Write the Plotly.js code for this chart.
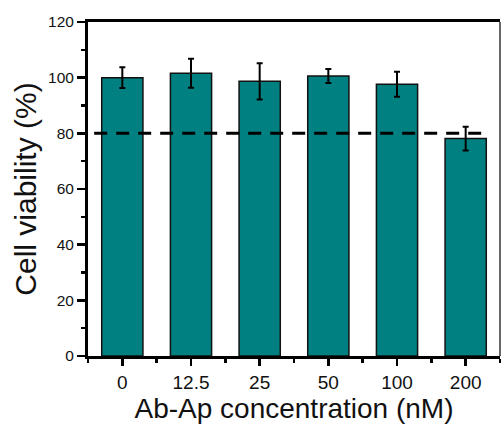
<!DOCTYPE html>
<html>
<head>
<meta charset="utf-8">
<script src="https://cdn.plot.ly/plotly-3.0.1.min.js"></script>
<style>html,body{margin:0;padding:0;background:#fff;}#chart{width:502px;height:429px;}</style>
</head>
<body>
<div id="chart"></div>
<script>
const categories = ["0", "12.5", "25", "50", "100", "200"];
const viability = [100.0, 101.6, 98.7, 100.6, 97.6, 78.1];
const errors = [3.7, 5.2, 6.5, 2.5, 4.5, 4.3];
const thresholdValue = 80;

const xIdx = categories.map((c, i) => i);

const trace = {
  type: 'bar',
  x: xIdx,
  y: viability,
  width: 0.6,
  marker: {color: '#008080', line: {color: '#111', width: 1.5}},
  error_y: {type: 'data', array: errors, visible: true, color: '#000', thickness: 2, width: 3},
  hoverinfo: 'y'
};

const layout = {
  width: 502, height: 429,
  margin: {l: 88, r: 2, t: 22, b: 73},
  paper_bgcolor: '#fff', plot_bgcolor: '#fff',
  showlegend: false,
  font: {family: '"Liberation Sans", Arial, sans-serif', color: '#000'},
  xaxis: {
    range: [-0.5, 5.5],
    tickmode: 'array', tickvals: xIdx, ticktext: categories,
    ticks: 'outside', ticklen: 7, tickwidth: 2.5, tickcolor: '#000',
    minor: {tick0: 0.5, dtick: 1, ticks: 'outside', ticklen: 4, tickwidth: 2.5, tickcolor: '#000'},
    showline: true, linewidth: 3, linecolor: '#000', mirror: true,
    showgrid: false, zeroline: false,
    tickfont: {size: 19, color: '#111'},
    title: {text: 'Ab-Ap concentration (nM)', font: {size: 28, color: '#111'}, standoff: 7}
  },
  yaxis: {
    range: [0, 120],
    tickmode: 'linear', tick0: 0, dtick: 20,
    ticks: 'outside', ticklen: 8, tickwidth: 2.5, tickcolor: '#000',
    minor: {dtick: 10, ticks: 'outside', ticklen: 4, tickwidth: 2.5, tickcolor: '#000'},
    showline: true, linewidth: 3, linecolor: '#000', mirror: false,
    showgrid: false, zeroline: false,
    tickfont: {size: 15.5, color: '#111'},
    title: {text: 'Cell viability (%)', font: {size: 30, color: '#111'}, standoff: 3}
  },
  shapes: [
    {type: 'line', xref: 'x', yref: 'y', x0: -0.41, x1: 5.34, y0: thresholdValue, y1: thresholdValue,
     line: {color: '#000', width: 3, dash: '13px,9px'}, layer: 'above'},
    {type: 'line', xref: 'paper', yref: 'paper', x0: 1, x1: 1, y0: 0, y1: 1,
     line: {color: '#333', width: 1.5}}
  ]
};

Plotly.newPlot('chart', [trace], layout, {staticPlot: true, displayModeBar: false});
</script>
</body>
</html>
